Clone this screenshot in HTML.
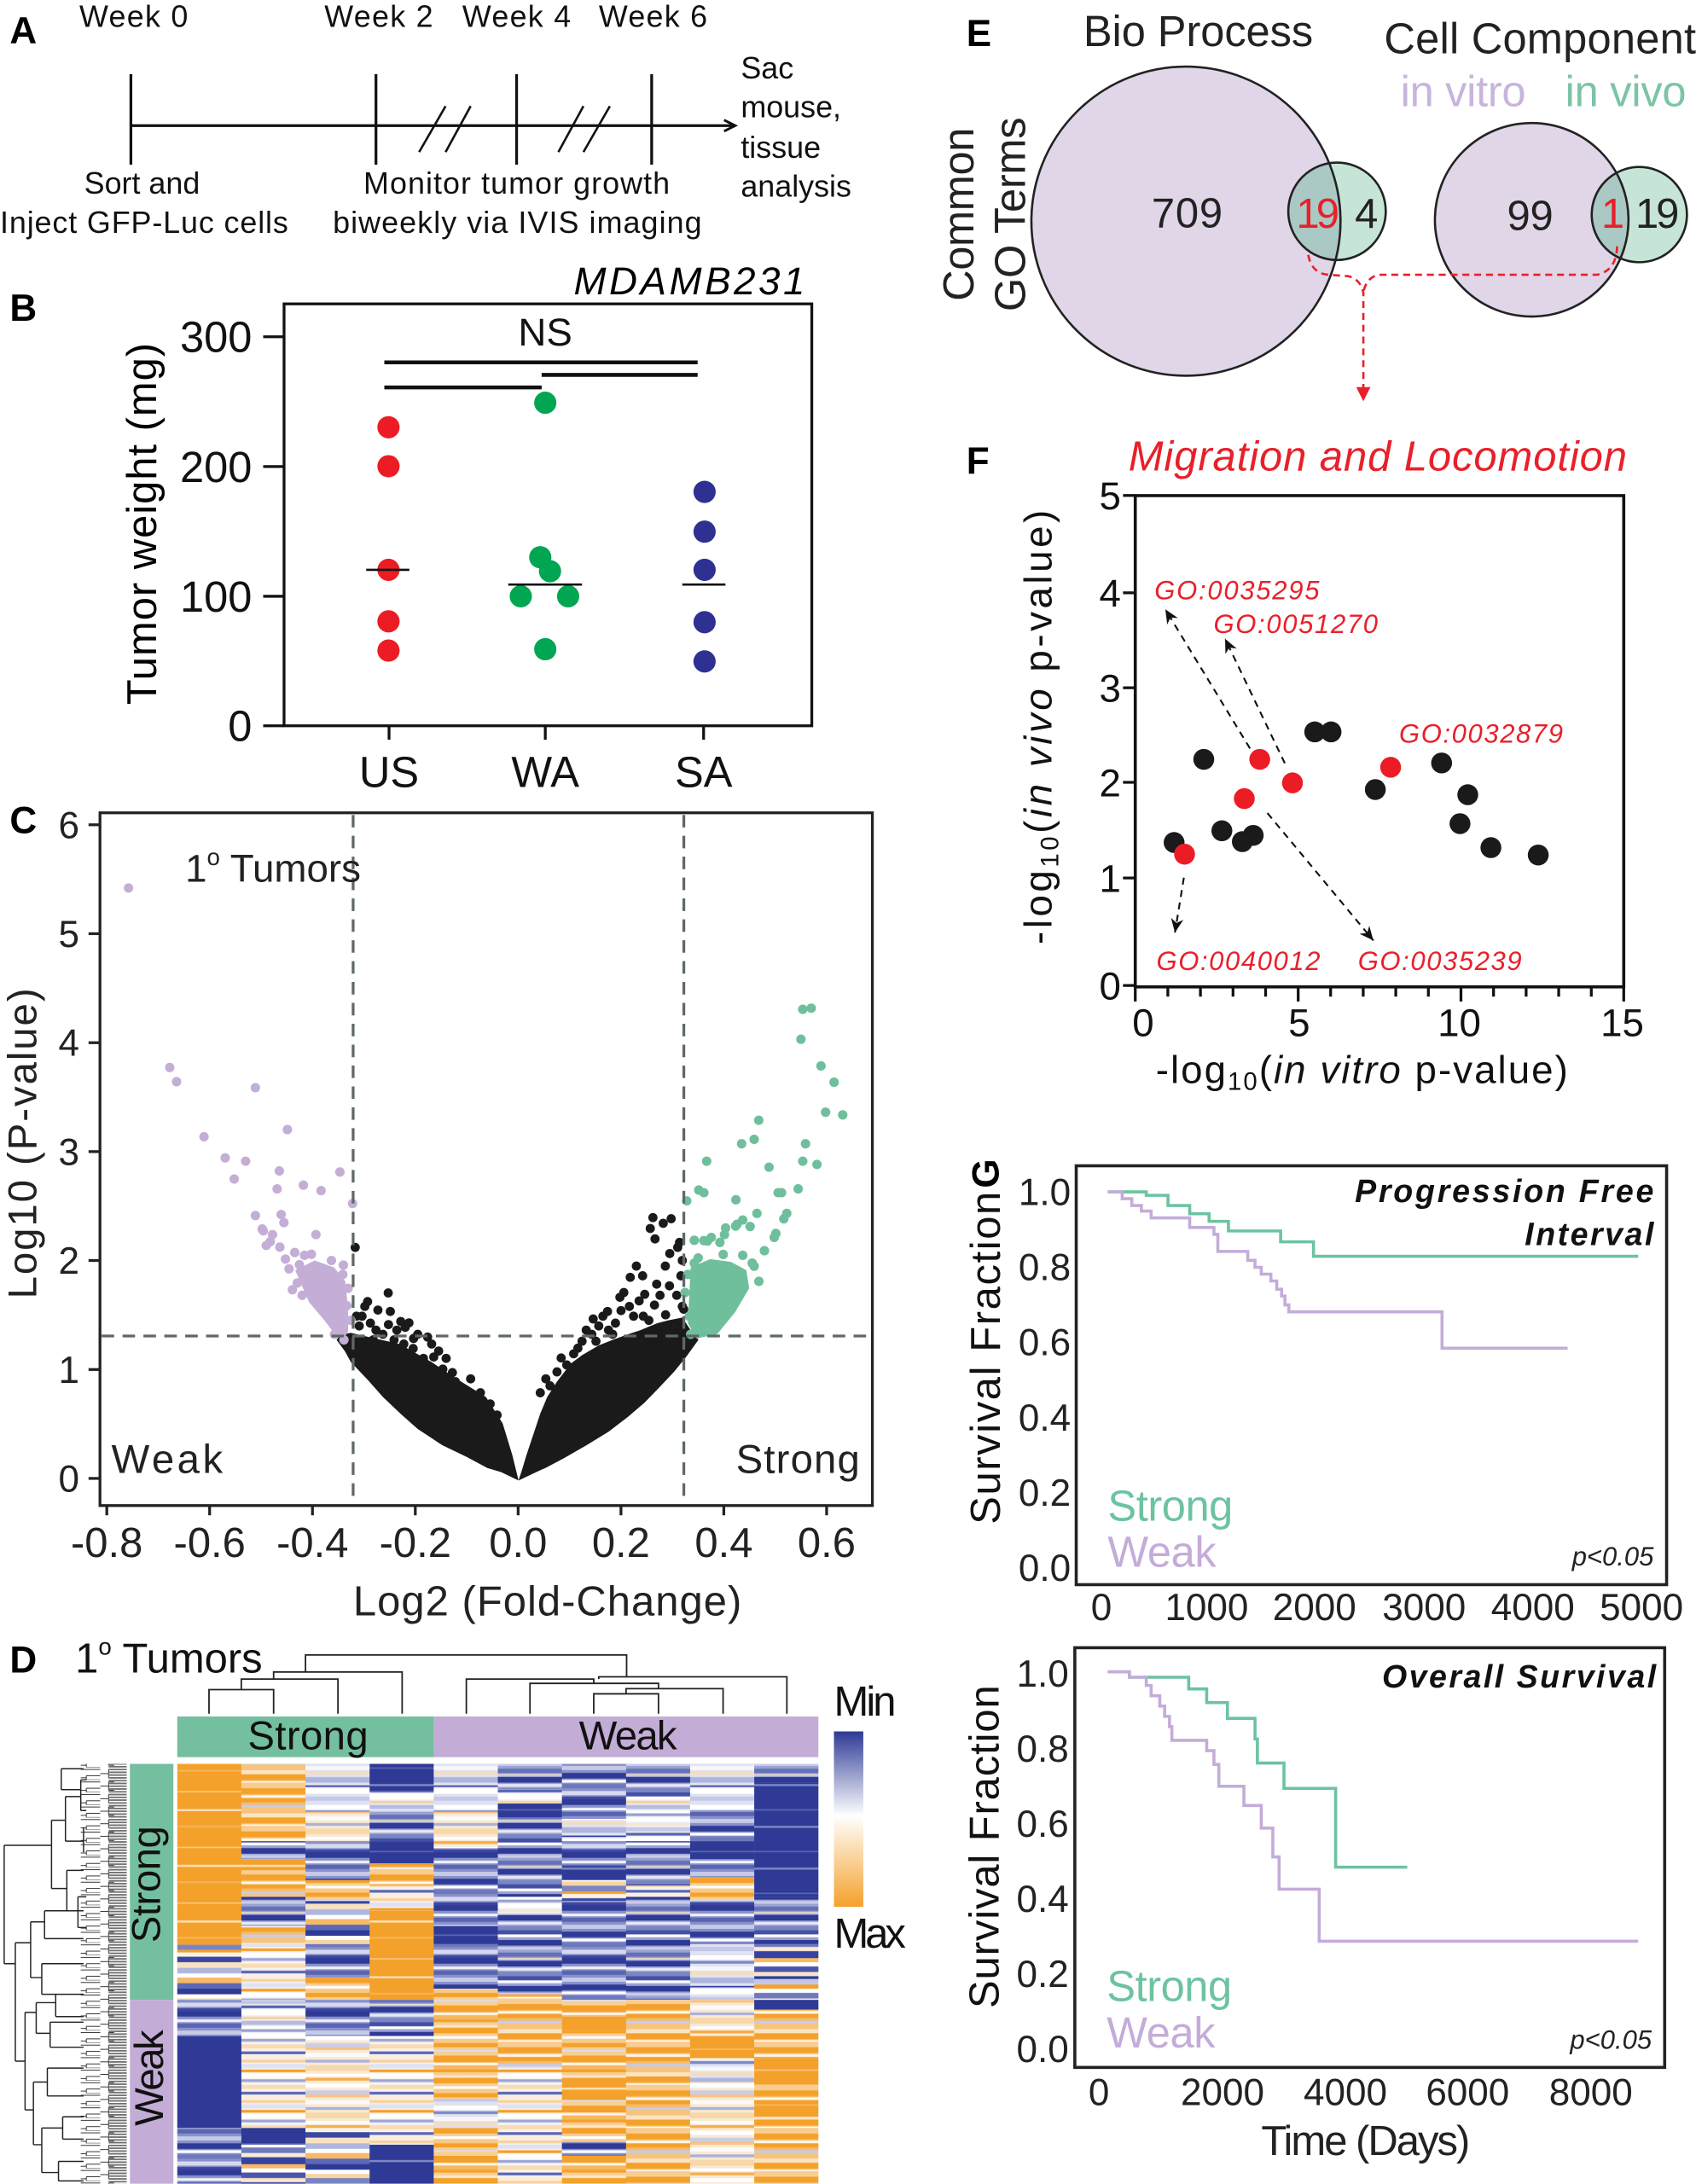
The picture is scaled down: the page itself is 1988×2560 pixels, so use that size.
<!DOCTYPE html>
<html><head><meta charset="utf-8"><style>html,body{margin:0;padding:0;background:#fff}svg{display:block}</style></head>
<body>
<svg xmlns="http://www.w3.org/2000/svg" width="1988" height="2560" viewBox="0 0 1218 1568" font-family="'Liberation Sans', Arial, sans-serif">
<defs>
<pattern id="or" patternUnits="userSpaceOnUse" width="50" height="40"><rect width="50" height="40" fill="#f4a12b"/><rect y="6" width="50" height="1" fill="#f8c880"/><rect y="19" width="50" height="1.5" fill="#fbe0b5"/><rect y="31" width="50" height="1" fill="#f7b862"/></pattern>
<pattern id="bd" patternUnits="userSpaceOnUse" width="50" height="30"><rect width="50" height="30" fill="#2e3a95"/><rect y="9" width="50" height="1" fill="#5b66b2"/><rect y="21" width="50" height="1.5" fill="#7e88c5"/></pattern>
<pattern id="bmA" patternUnits="userSpaceOnUse" width="50" height="38"><rect width="50" height="38" fill="#8891cb"/><rect y="0" width="50" height="4" fill="#2e3a95"/><rect y="6" width="50" height="2" fill="#eef0f8"/><rect y="9" width="50" height="3" fill="#5965b2"/><rect y="14" width="50" height="3" fill="#c5cae7"/><rect y="19" width="50" height="4" fill="#2e3a95"/><rect y="24" width="50" height="2" fill="#fff"/><rect y="27" width="50" height="3" fill="#6d77bb"/><rect y="32" width="50" height="3" fill="#d7daee"/><rect y="36" width="50" height="2" fill="#3a46a0"/></pattern>
<pattern id="bmB" patternUnits="userSpaceOnUse" width="50" height="33"><rect width="50" height="33" fill="#9aa2d3"/><rect y="0" width="50" height="3" fill="#4450a6"/><rect y="3" width="50" height="2" fill="#fff"/><rect y="7" width="50" height="4" fill="#2e3a95"/><rect y="12" width="50" height="2" fill="#c9cde9"/><rect y="16" width="50" height="3" fill="#6470b8"/><rect y="20" width="50" height="1" fill="#f8e2c4"/><rect y="22" width="50" height="4" fill="#2e3a95"/><rect y="27" width="50" height="2" fill="#e6e8f4"/><rect y="30" width="50" height="3" fill="#7b85c3"/></pattern>
<pattern id="ormA" patternUnits="userSpaceOnUse" width="50" height="36"><rect width="50" height="36" fill="#f8cf95"/><rect y="0" width="50" height="5" fill="#f4a12b"/><rect y="5" width="50" height="2" fill="#fdf3e6"/><rect y="7" width="50" height="3" fill="#f6b75d"/><rect y="10" width="50" height="2" fill="#f4a12b"/><rect y="14" width="50" height="2" fill="#fbe6c8"/><rect y="16" width="50" height="4" fill="#f4a12b"/><rect y="22" width="50" height="2" fill="#fff"/><rect y="24" width="50" height="3" fill="#f8c987"/><rect y="27" width="50" height="3" fill="#f4a12b"/><rect y="32" width="50" height="1" fill="#dcdff0"/></pattern>
<pattern id="ormB" patternUnits="userSpaceOnUse" width="50" height="31"><rect width="50" height="31" fill="#f6bb66"/><rect y="0" width="50" height="3" fill="#fbe3c2"/><rect y="3" width="50" height="4" fill="#f4a12b"/><rect y="8" width="50" height="1" fill="#fff"/><rect y="9" width="50" height="4" fill="#f8cd92"/><rect y="13" width="50" height="4" fill="#f4a12b"/><rect y="18" width="50" height="2" fill="#fdf6ec"/><rect y="20" width="50" height="3" fill="#f4a12b"/><rect y="25" width="50" height="2" fill="#c7cce8"/><rect y="27" width="50" height="4" fill="#f7c47e"/></pattern>
<pattern id="paleA" patternUnits="userSpaceOnUse" width="50" height="34"><rect width="50" height="34" fill="#f9e9d3"/><rect y="0" width="50" height="3" fill="#fff"/><rect y="5" width="50" height="3" fill="#c9cde8"/><rect y="8" width="50" height="2" fill="#f7c283"/><rect y="12" width="50" height="3" fill="#fdfbf8"/><rect y="17" width="50" height="2" fill="#aab1db"/><rect y="21" width="50" height="4" fill="#f8d7a9"/><rect y="27" width="50" height="2" fill="#fff"/><rect y="30" width="50" height="2" fill="#f5ad4b"/></pattern>
<pattern id="paleB" patternUnits="userSpaceOnUse" width="50" height="29"><rect width="50" height="29" fill="#f6f3ef"/><rect y="0" width="50" height="2" fill="#f8d2a0"/><rect y="3" width="50" height="3" fill="#dfe2f2"/><rect y="7" width="50" height="2" fill="#f4a12b"/><rect y="10" width="50" height="3" fill="#fff"/><rect y="14" width="50" height="2" fill="#9ea6d6"/><rect y="18" width="50" height="3" fill="#f9dcb4"/><rect y="23" width="50" height="2" fill="#5b67b3"/><rect y="26" width="50" height="3" fill="#fbeede"/></pattern>
<pattern id="mixA" patternUnits="userSpaceOnUse" width="50" height="42"><rect width="50" height="42" fill="#eceef7"/><rect y="0" width="50" height="4" fill="#2e3a95"/><rect y="4" width="50" height="3" fill="#fff"/><rect y="7" width="50" height="3" fill="#f8d4a2"/><rect y="10" width="50" height="4" fill="#7a84c3"/><rect y="14" width="50" height="2" fill="#f4a12b"/><rect y="16" width="50" height="3" fill="#fbf2e6"/><rect y="19" width="50" height="4" fill="#3a46a0"/><rect y="23" width="50" height="4" fill="#f9e2c2"/><rect y="27" width="50" height="4" fill="#b0b7de"/><rect y="31" width="50" height="3" fill="#fff"/><rect y="34" width="50" height="4" fill="#f6b968"/><rect y="38" width="50" height="4" fill="#5c68b3"/></pattern>
<pattern id="mixB" patternUnits="userSpaceOnUse" width="50" height="37"><rect width="50" height="37" fill="#dde0f1"/><rect y="0" width="50" height="3" fill="#f6b968"/><rect y="3" width="50" height="3" fill="#fff"/><rect y="6" width="50" height="4" fill="#4a56aa"/><rect y="10" width="50" height="3" fill="#f9e4c8"/><rect y="13" width="50" height="2" fill="#2e3a95"/><rect y="15" width="50" height="4" fill="#c2c7e6"/><rect y="19" width="50" height="3" fill="#f4a12b"/><rect y="22" width="50" height="3" fill="#fff"/><rect y="25" width="50" height="4" fill="#6f79bd"/><rect y="29" width="50" height="3" fill="#fae9d4"/><rect y="32" width="50" height="5" fill="#3542a0"/></pattern>
<pattern id="wbA" patternUnits="userSpaceOnUse" width="50" height="36"><rect width="50" height="36" fill="#dfe2f1"/><rect y="0" width="50" height="3" fill="#fff"/><rect y="4" width="50" height="2" fill="#7e88c5"/><rect y="8" width="50" height="3" fill="#f7f7fb"/><rect y="12" width="50" height="2" fill="#f8dcb8"/><rect y="16" width="50" height="4" fill="#aeb5dc"/><rect y="22" width="50" height="1" fill="#2e3a95"/><rect y="24" width="50" height="4" fill="#fff"/><rect y="30" width="50" height="3" fill="#c3c8e6"/></pattern>
<pattern id="wbB" patternUnits="userSpaceOnUse" width="50" height="31"><rect width="50" height="31" fill="#eef0f7"/><rect y="0" width="50" height="2" fill="#9aa2d3"/><rect y="3" width="50" height="3" fill="#fff"/><rect y="7" width="50" height="2" fill="#f9e6cc"/><rect y="10" width="50" height="3" fill="#c3c8e6"/><rect y="14" width="50" height="2" fill="#5864b2"/><rect y="17" width="50" height="4" fill="#fff"/><rect y="22" width="50" height="2" fill="#f7d3a3"/><rect y="25" width="50" height="3" fill="#b6bce0"/><rect y="29" width="50" height="2" fill="#fff"/></pattern>
<pattern id="twig" patternUnits="userSpaceOnUse" width="24" height="9"><path d="M0 4.5H6M6 1.5V7.5M6 1.5H24M6 7.5H14M14 6V9M14 6H24M14 9H24" stroke="#333" stroke-width="0.6" fill="none"/></pattern>
<pattern id="leaf" patternUnits="userSpaceOnUse" width="20" height="2"><rect width="20" height="1.1" fill="#6e6e6e"/></pattern>
<linearGradient id="key" x1="0" y1="0" x2="0" y2="1"><stop offset="0" stop-color="#2e3a95"/><stop offset="0.48" stop-color="#ffffff"/><stop offset="1" stop-color="#f4a12b"/></linearGradient>
<clipPath id="bigBP"><circle cx="851.7" cy="158.6" r="111"/></clipPath>
<clipPath id="bigCC"><circle cx="1100" cy="157.6" r="69.5"/></clipPath>
<marker id="ah" markerUnits="userSpaceOnUse" markerWidth="11" markerHeight="9" refX="10" refY="4.5" orient="auto"><path d="M0,0 L10,4.5 L0,9 L3,4.5 Z" fill="#111"/></marker>
</defs>

<!-- ================= PANEL A ================= -->
<text x="7" y="31" font-size="27" font-weight="bold">A</text>
<g font-size="22" fill="#111">
<text x="57" y="19" textLength="78">Week 0</text>
<text x="233" y="19" textLength="78">Week 2</text>
<text x="332" y="19" textLength="78">Week 4</text>
<text x="430" y="19" textLength="78">Week 6</text>
<text x="102" y="139" text-anchor="middle">Sort and</text>
<text x="0" y="167" textLength="207">Inject GFP-Luc cells</text>
<text x="261" y="139" textLength="220">Monitor tumor growth</text>
<text x="239" y="167" textLength="265">biweekly via IVIS imaging</text>
<text x="532" y="56">Sac</text>
<text x="532" y="84">mouse,</text>
<text x="532" y="113">tissue</text>
<text x="532" y="141">analysis</text>
</g>
<g stroke="#111" stroke-width="2" fill="none">
<line x1="94" y1="90" x2="527" y2="90"/>
<polyline points="520,86 528,90 520,94" stroke-width="1.8"/>
<line x1="94" y1="53" x2="94" y2="118"/>
<line x1="270" y1="53" x2="270" y2="118"/>
<line x1="371" y1="53" x2="371" y2="118"/>
<line x1="468" y1="53" x2="468" y2="118"/>
<g stroke-width="1.6"><line x1="301" y1="109" x2="320" y2="76"/><line x1="320" y1="109" x2="338" y2="76"/><line x1="401" y1="109" x2="419" y2="76"/><line x1="419" y1="109" x2="438" y2="76"/></g>
</g>

<!-- ================= PANEL B ================= -->
<text x="7" y="230" font-size="27" font-weight="bold">B</text>
<text x="412" y="211" font-size="28" font-style="italic" textLength="166">MDAMB231</text>
<rect x="204" y="218" width="379" height="303" fill="none" stroke="#111" stroke-width="2"/>
<g stroke="#111" stroke-width="2">
<line x1="189" y1="241.6" x2="204" y2="241.6"/><line x1="189" y1="334.8" x2="204" y2="334.8"/><line x1="189" y1="428" x2="204" y2="428"/><line x1="189" y1="521" x2="204" y2="521"/>
<line x1="279.4" y1="521" x2="279.4" y2="531"/><line x1="391.6" y1="521" x2="391.6" y2="531"/><line x1="505.3" y1="521" x2="505.3" y2="531"/>
</g>
<g font-size="31" text-anchor="end" fill="#111">
<text x="181" y="252.5">300</text><text x="181" y="345.8">200</text><text x="181" y="439">100</text><text x="181" y="532">0</text>
</g>
<g font-size="31" text-anchor="middle" fill="#111">
<text x="279.4" y="565">US</text><text x="391.6" y="565">WA</text><text x="505.3" y="565">SA</text>
<text x="391.6" y="248" font-size="28">NS</text>
</g>
<text transform="translate(112,376) rotate(-90)" font-size="30" text-anchor="middle" textLength="260">Tumor weight (mg)</text>
<g stroke="#111" stroke-width="2.8">
<line x1="276" y1="260" x2="501" y2="260"/><line x1="389" y1="269" x2="501" y2="269"/><line x1="276" y1="278" x2="389" y2="278"/>
</g>
<g fill="#ec1c24"><circle cx="279" cy="306.6" r="8"/><circle cx="279" cy="334.6" r="8"/><circle cx="279" cy="409" r="8"/><circle cx="279" cy="446" r="8"/><circle cx="279" cy="467" r="8"/></g>
<g fill="#00a651"><circle cx="391.6" cy="289" r="8"/><circle cx="388" cy="400" r="8"/><circle cx="395" cy="410" r="8"/><circle cx="374" cy="428" r="8"/><circle cx="408" cy="428" r="8"/><circle cx="391.6" cy="466" r="8"/></g>
<g fill="#2e3192"><circle cx="506" cy="353" r="8"/><circle cx="506" cy="381.6" r="8"/><circle cx="506" cy="409" r="8"/><circle cx="506" cy="446.6" r="8"/><circle cx="506" cy="474.8" r="8"/></g>
<g stroke="#111" stroke-width="1.6">
<line x1="263" y1="409" x2="294" y2="409"/><line x1="365" y1="419.6" x2="418" y2="419.6"/><line x1="490" y1="419.6" x2="521" y2="419.6"/>
</g>

<!-- ================= PANEL C ================= -->
<text x="7" y="598" font-size="27" font-weight="bold">C</text>
<g fill="#1a1a1a">
<path d="M372.4,1063 L360,1057 L350,1054 L335,1046 L317.5,1037.6 L300,1026 L287.8,1015.2 L275,1003 L264,990.6 L252,978 L247.7,970.2 L241.7,962 L245,958 L252,957 L265,960 L287,965 L310,978 L328,990 L349,1003 L361,1022 L368,1045 Z"/>
<path d="M372.4,1063 L385,1057 L391.7,1054 L405,1047 L421.4,1037.6 L437,1028 L451.1,1017.2 L463,1007 L474.9,994.7 L484,985 L492.7,974.3 L501.6,962 L496,955 L490,946 L480,948 L472,950 L460,955 L451,958 L440,962 L430,966 L418,973 L410,979 L400,992 L393,1003 L388,1015 L383,1030 L378,1045 L375,1055 Z"/>
</g>
<g fill="#1a1a1a">
<circle cx="255.1" cy="895.6" r="3.3"/><circle cx="278.8" cy="928.3" r="3.3"/><circle cx="264" cy="934.5" r="3.3"/><circle cx="271.4" cy="940.6" r="3.3"/><circle cx="280.3" cy="941.6" r="3.3"/><circle cx="287.8" cy="948.8" r="3.3"/><circle cx="293.7" cy="949.8" r="3.3"/><circle cx="291" cy="953" r="3.3"/><circle cx="307.1" cy="960" r="3.3"/><circle cx="296.7" cy="968.2" r="3.3"/><circle cx="304.1" cy="975.3" r="3.3"/><circle cx="311.5" cy="974.3" r="3.3"/><circle cx="320.4" cy="975.3" r="3.3"/><circle cx="324.9" cy="985.5" r="3.3"/><circle cx="332.3" cy="997.8" r="3.3"/><circle cx="335" cy="999" r="3.3"/><circle cx="341.2" cy="1009" r="3.3"/><circle cx="260" cy="945" r="3.3"/><circle cx="266" cy="950" r="3.3"/><circle cx="258" cy="952" r="3.3"/><circle cx="275" cy="958" r="3.3"/><circle cx="283" cy="962" r="3.3"/><circle cx="268" cy="962" r="3.3"/><circle cx="290" cy="965" r="3.3"/><circle cx="262" cy="938" r="3.3"/><circle cx="279" cy="951" r="3.3"/><circle cx="300" cy="958" r="3.3"/><circle cx="310" cy="965" r="3.3"/><circle cx="318" cy="983" r="3.3"/><circle cx="327" cy="992" r="3.3"/><circle cx="256" cy="945" r="3.3"/><circle cx="270" cy="955" r="3.3"/><circle cx="297" cy="961" r="3.3"/><circle cx="315" cy="970" r="3.3"/><circle cx="338" cy="990" r="3.3"/><circle cx="345" cy="1000" r="3.3"/><circle cx="352" cy="1008" r="3.3"/><circle cx="357" cy="1016" r="3.3"/><circle cx="285" cy="955" r="3.3"/>
<circle cx="468.9" cy="874.2" r="3.3"/><circle cx="476.3" cy="878.3" r="3.3"/><circle cx="482" cy="875" r="3.3"/><circle cx="470.4" cy="889.5" r="3.3"/><circle cx="467" cy="882" r="3.3"/><circle cx="486.7" cy="895.6" r="3.3"/><circle cx="457" cy="909" r="3.3"/><circle cx="477.8" cy="909" r="3.3"/><circle cx="452.6" cy="917.1" r="3.3"/><circle cx="461.5" cy="916" r="3.3"/><circle cx="471.6" cy="922" r="3.3"/><circle cx="480.8" cy="923.2" r="3.3"/><circle cx="445.2" cy="931.4" r="3.3"/><circle cx="463" cy="929.3" r="3.3"/><circle cx="486" cy="930" r="3.3"/><circle cx="436.3" cy="941.6" r="3.3"/><circle cx="452" cy="938" r="3.3"/><circle cx="470" cy="937" r="3.3"/><circle cx="455" cy="945" r="3.3"/><circle cx="442" cy="950" r="3.3"/><circle cx="430" cy="952" r="3.3"/><circle cx="478" cy="944" r="3.3"/><circle cx="490" cy="938" r="3.3"/><circle cx="425" cy="958" r="3.3"/><circle cx="418" cy="963" r="3.3"/><circle cx="433" cy="945" r="3.3"/><circle cx="448" cy="928" r="3.3"/><circle cx="459" cy="934" r="3.3"/><circle cx="485" cy="952" r="3.3"/><circle cx="465" cy="958" r="3.3"/><circle cx="475" cy="955" r="3.3"/><circle cx="440" cy="958" r="3.3"/><circle cx="412" cy="972" r="3.3"/><circle cx="407" cy="980" r="3.3"/><circle cx="446" cy="941" r="3.3"/><circle cx="428" cy="963" r="3.3"/><circle cx="462" cy="945" r="3.3"/><circle cx="489" cy="916" r="3.3"/><circle cx="481" cy="900" r="3.3"/><circle cx="488" cy="892" r="3.3"/><circle cx="490" cy="905" r="3.3"/><circle cx="491" cy="940" r="3.3"/><circle cx="400" cy="985" r="3.3"/><circle cx="395" cy="995" r="3.3"/><circle cx="421" cy="955" r="3.3"/><circle cx="415" cy="968" r="3.3"/><circle cx="403" cy="975" r="3.3"/><circle cx="392" cy="990" r="3.3"/><circle cx="388" cy="1000" r="3.3"/><circle cx="437" cy="955" r="3.3"/><circle cx="426" cy="947" r="3.3"/><circle cx="466" cy="948" r="3.3"/><circle cx="474" cy="930" r="3.3"/>
</g>
<!-- lavender -->
<g fill="#c4aed6">
<path d="M212,912 L226,905 L240,910 L248,920 L250,940 L250,956 L242,960 L233,948 L222,935 Z"/>
<circle cx="92.3" cy="637.5" r="3.4"/><circle cx="121.9" cy="766.4" r="3.4"/><circle cx="126.8" cy="776.6" r="3.4"/><circle cx="183.4" cy="780.9" r="3.4"/><circle cx="146.5" cy="816.1" r="3.4"/><circle cx="206.4" cy="811" r="3.4"/><circle cx="161.7" cy="831.3" r="3.4"/><circle cx="176.4" cy="833.7" r="3.4"/><circle cx="168.2" cy="846.5" r="3.4"/><circle cx="200.6" cy="840.7" r="3.4"/><circle cx="244.1" cy="841.5" r="3.4"/><circle cx="199" cy="853.6" r="3.4"/><circle cx="217.9" cy="850.9" r="3.4"/><circle cx="230.6" cy="854.8" r="3.4"/><circle cx="253.2" cy="864.1" r="3.4"/><circle cx="183.4" cy="872.7" r="3.4"/><circle cx="201.9" cy="872" r="3.4"/><circle cx="203.9" cy="877.8" r="3.4"/><circle cx="226.9" cy="886.4" r="3.4"/><circle cx="189.1" cy="883.7" r="3.4"/><circle cx="194.1" cy="891.5" r="3.4"/><circle cx="191.2" cy="894.2" r="3.4"/><circle cx="201" cy="895.4" r="3.4"/><circle cx="211.7" cy="899.3" r="3.4"/><circle cx="218.7" cy="901.3" r="3.4"/><circle cx="246.6" cy="908.3" r="3.4"/><circle cx="246.2" cy="915" r="3.4"/><circle cx="223.6" cy="900.5" r="3.4"/><circle cx="188.3" cy="882.4" r="3.4"/><circle cx="195.7" cy="886.4" r="3.4"/><circle cx="207.6" cy="911" r="3.4"/><circle cx="205" cy="904" r="3.4"/><circle cx="219.4" cy="917.1" r="3.4"/><circle cx="231.3" cy="917.1" r="3.4"/><circle cx="213.5" cy="921.2" r="3.4"/><circle cx="222.4" cy="927.3" r="3.4"/><circle cx="228.4" cy="933.4" r="3.4"/><circle cx="240.2" cy="931.4" r="3.4"/><circle cx="234.3" cy="941.6" r="3.4"/><circle cx="243.2" cy="947.7" r="3.4"/><circle cx="246.2" cy="955.9" r="3.4"/><circle cx="240.2" cy="958" r="3.4"/><circle cx="249.1" cy="937.5" r="3.4"/><circle cx="215" cy="908" r="3.4"/><circle cx="236" cy="925" r="3.4"/><circle cx="250" cy="925" r="3.4"/><circle cx="226" cy="920" r="3.4"/><circle cx="217" cy="930" r="3.4"/><circle cx="247" cy="962" r="3.4"/><circle cx="210" cy="926" r="3.4"/><circle cx="252" cy="948" r="3.4"/><circle cx="238" cy="905" r="3.4"/>
</g>
<!-- green -->
<g fill="#6fbf9c">
<path d="M496,910 L510,904 L525,906 L536,912 L538,925 L528,942 L515,958 L500,961 L494,950 Z"/>
<circle cx="576.5" cy="724.6" r="3.4"/><circle cx="582.6" cy="723.8" r="3.4"/><circle cx="575.2" cy="746.1" r="3.4"/><circle cx="589.6" cy="765.3" r="3.4"/><circle cx="599" cy="777" r="3.4"/><circle cx="592.9" cy="798.5" r="3.4"/><circle cx="605.2" cy="800.4" r="3.4"/><circle cx="544.9" cy="804.3" r="3.4"/><circle cx="532.6" cy="821.2" r="3.4"/><circle cx="541.6" cy="818" r="3.4"/><circle cx="578.5" cy="821.2" r="3.4"/><circle cx="507.5" cy="833.7" r="3.4"/><circle cx="576.5" cy="833.7" r="3.4"/><circle cx="586.7" cy="836" r="3.4"/><circle cx="552.3" cy="838" r="3.4"/><circle cx="561.3" cy="856.3" r="3.4"/><circle cx="573.2" cy="853.6" r="3.4"/><circle cx="501.8" cy="854.4" r="3.4"/><circle cx="505.5" cy="856.3" r="3.4"/><circle cx="558.8" cy="856.3" r="3.4"/><circle cx="528.5" cy="861.4" r="3.4"/><circle cx="493.2" cy="862.2" r="3.4"/><circle cx="543.6" cy="871.2" r="3.4"/><circle cx="565" cy="871.2" r="3.4"/><circle cx="562.9" cy="875.1" r="3.4"/><circle cx="529.3" cy="879" r="3.4"/><circle cx="533.4" cy="875.9" r="3.4"/><circle cx="538.7" cy="880.6" r="3.4"/><circle cx="557.2" cy="885.6" r="3.4"/><circle cx="556" cy="888.4" r="3.4"/><circle cx="521.1" cy="881.7" r="3.4"/><circle cx="520.3" cy="886.4" r="3.4"/><circle cx="510.8" cy="888.4" r="3.4"/><circle cx="505.5" cy="890.7" r="3.4"/><circle cx="501.4" cy="903.2" r="3.4"/><circle cx="533.4" cy="901.3" r="3.4"/><circle cx="541.6" cy="909.1" r="3.4"/><circle cx="529.3" cy="916.9" r="3.4"/><circle cx="498.6" cy="890.5" r="3.4"/><circle cx="508" cy="891" r="3.4"/><circle cx="517" cy="892" r="3.4"/><circle cx="528.3" cy="880.3" r="3.4"/><circle cx="519.4" cy="900.7" r="3.4"/><circle cx="540.2" cy="906.9" r="3.4"/><circle cx="498.6" cy="906.9" r="3.4"/><circle cx="510" cy="912" r="3.4"/><circle cx="504" cy="922" r="3.4"/><circle cx="521" cy="922" r="3.4"/><circle cx="515" cy="930" r="3.4"/><circle cx="500" cy="935" r="3.4"/><circle cx="508" cy="940" r="3.4"/><circle cx="495" cy="945" r="3.4"/><circle cx="503" cy="950" r="3.4"/><circle cx="496" cy="958" r="3.4"/><circle cx="492" cy="928" r="3.4"/><circle cx="494" cy="915" r="3.4"/><circle cx="530" cy="925" r="3.4"/><circle cx="549" cy="898" r="3.4"/><circle cx="545" cy="920" r="3.4"/><circle cx="524" cy="937" r="3.4"/>
</g>
<g stroke="#5f6868" stroke-width="2" stroke-dasharray="9 6" fill="none">
<line x1="253.6" y1="585" x2="253.6" y2="1080"/><line x1="491.1" y1="585" x2="491.1" y2="1080"/><line x1="73" y1="959.2" x2="625.5" y2="959.2"/>
</g>
<rect x="71.8" y="583.5" width="554.7" height="497.5" fill="none" stroke="#222" stroke-width="2"/>
<g stroke="#222" stroke-width="2">
<line x1="63.6" y1="592.1" x2="71.8" y2="592.1"/><line x1="63.6" y1="670.3" x2="71.8" y2="670.3"/><line x1="63.6" y1="748.6" x2="71.8" y2="748.6"/><line x1="63.6" y1="826.8" x2="71.8" y2="826.8"/><line x1="63.6" y1="905" x2="71.8" y2="905"/><line x1="63.6" y1="983.3" x2="71.8" y2="983.3"/><line x1="63.6" y1="1061.5" x2="71.8" y2="1061.5"/>
<line x1="76.7" y1="1081" x2="76.7" y2="1088"/><line x1="150.55" y1="1081" x2="150.55" y2="1088"/><line x1="224.4" y1="1081" x2="224.4" y2="1088"/><line x1="298.25" y1="1081" x2="298.25" y2="1088"/><line x1="372.1" y1="1081" x2="372.1" y2="1088"/><line x1="445.95" y1="1081" x2="445.95" y2="1088"/><line x1="519.8" y1="1081" x2="519.8" y2="1088"/><line x1="593.65" y1="1081" x2="593.65" y2="1088"/>
</g>
<g font-size="27" text-anchor="end" fill="#222">
<text x="57" y="601.6">6</text><text x="57" y="679.8">5</text><text x="57" y="758.1">4</text><text x="57" y="836.3">3</text><text x="57" y="914.5">2</text><text x="57" y="992.8">1</text><text x="57" y="1071">0</text>
</g>
<g font-size="30" text-anchor="middle" fill="#222">
<text x="76.7" y="1118">-0.8</text><text x="150.55" y="1118">-0.6</text><text x="224.4" y="1118">-0.4</text><text x="298.25" y="1118">-0.2</text><text x="372.1" y="1118">0.0</text><text x="445.95" y="1118">0.2</text><text x="519.8" y="1118">0.4</text><text x="593.65" y="1118">0.6</text>
</g>
<text x="253.6" y="1160" font-size="30" fill="#222" textLength="279">Log2 (Fold-Change)</text>
<text transform="translate(26,821) rotate(-90)" font-size="29" text-anchor="middle" fill="#222" textLength="223">Log10 (P-value)</text>
<text x="133" y="633" font-size="28" fill="#222">1<tspan font-size="17" dy="-12">o</tspan><tspan dy="12"> Tumors</tspan></text>
<text x="80" y="1057.6" font-size="29" fill="#222" textLength="80">Weak</text>
<text x="528.5" y="1057.6" font-size="29" fill="#222" textLength="89">Strong</text>

<!-- ================= PANEL D ================= -->
<text x="7" y="1201" font-size="27" font-weight="bold">D</text>
<text x="54" y="1201" font-size="30" fill="#111">1<tspan font-size="17" dy="-13">o</tspan><tspan dy="13"> Tumors</tspan></text>
<g stroke="#222" stroke-width="1.1" fill="none">
<path d="M150.1,1230.5V1213.2H196.5V1230.5M173.3,1213.2V1205.6H242.7V1230.5M196.5,1205.6V1200.5H288.8V1230.5M219.4,1200.5V1188.3H450H450V1204"/>
<path d="M426.4,1230.5V1216.2H472.9V1230.5M449.6,1216.2V1212.5H519.3V1230.5M472.9,1212.5V1208.7H380.6V1230.5M426.4,1208.7V1205.6H334.9V1230.5M430,1205.6V1204H565.1V1230.5"/>
</g>
<rect x="127.3" y="1232.5" width="184.2" height="29.2" fill="#74bf9f"/>
<rect x="311.5" y="1232.5" width="276.2" height="29.2" fill="#c3acd6"/>
<text x="177.9" y="1256" font-size="29" fill="#111" textLength="86.6">Strong</text>
<text x="415.8" y="1256" font-size="29" fill="#111" textLength="70.4">Weak</text>
<rect x="93.3" y="1266.5" width="31.2" height="169.5" fill="#74bf9f"/>
<rect x="93.3" y="1436" width="31.2" height="132" fill="#c3acd6"/>
<text transform="translate(115,1353) rotate(-90)" font-size="29" text-anchor="middle" fill="#111" textLength="84">Strong</text>
<text transform="translate(117,1492) rotate(-90)" font-size="29" text-anchor="middle" fill="#111" textLength="69">Weak</text>
<rect x="58" y="1266.5" width="24" height="301.5" fill="url(#twig)"/>
<rect x="78" y="1266.5" width="13" height="301.5" fill="url(#leaf)"/>
<g stroke="#222" stroke-width="0.9" fill="none">
<path d="M3,1325V1410M3,1325H37M3,1410H11"/>
<path d="M37,1307V1356M37,1307H47M37,1356H48M47,1290V1322M47,1290H58M47,1322H60M48,1343V1372M48,1343H60M48,1372H56M58,1278V1300M58,1278H62M58,1300H62M60,1312V1330M56,1362V1384M56,1362H62M56,1384H62M44,1270V1285M44,1270H60M44,1285H58"/>
<path d="M11,1395V1480M11,1395H22M11,1480H18M22,1380V1420M22,1380H32M22,1420H30M32,1372V1392M32,1372H60M32,1392H60M30,1410V1432M30,1410H60M30,1432H60"/>
<path d="M18,1445V1515M18,1445H26M18,1515H24M26,1438V1460M26,1438H40M26,1460H36M40,1432V1448M40,1448H60M36,1452V1470M36,1452H60M36,1470H60M24,1495V1540M24,1495H34M24,1540H30M34,1485V1505M34,1485H60M34,1505H60M30,1528V1560M30,1528H45M30,1560H42M45,1520V1536M45,1520H60M45,1536H60M42,1552V1566M42,1552H60M42,1566H60"/>
</g>
<!-- heatmap -->
<g transform="translate(127.3,0)">
<rect y="1266.5" width="46.2" height="129.9" fill="url(#or)"/><rect y="1396.4" width="46.2" height="39.6" fill="url(#mixA)"/><rect y="1436" width="46.2" height="26" fill="url(#bmA)"/><rect y="1462" width="46.2" height="66" fill="#2e3a95"/><rect y="1528" width="46.2" height="40" fill="url(#bmA)"/>
</g>
<g transform="translate(173.34,0)">
<rect y="1266.5" width="46.2" height="55.5" fill="url(#ormB)"/><rect y="1322" width="46.2" height="13" fill="url(#bmB)"/><rect y="1335" width="46.2" height="8" fill="url(#or)"/><rect y="1343" width="46.2" height="19" fill="url(#ormB)"/><rect y="1362" width="46.2" height="21" fill="url(#bmB)"/><rect y="1383" width="46.2" height="13" fill="url(#ormB)"/><rect y="1396" width="46.2" height="40" fill="url(#paleB)"/><rect y="1436" width="46.2" height="26" fill="url(#wbB)"/><rect y="1462" width="46.2" height="66" fill="url(#paleB)"/><rect y="1528" width="46.2" height="12" fill="url(#bd)"/><rect y="1540" width="46.2" height="28" fill="url(#mixB)"/>
</g>
<g transform="translate(219.38,0)">
<rect y="1266.5" width="46.2" height="34.5" fill="url(#wbA)"/><rect y="1301" width="46.2" height="21" fill="url(#paleA)"/><rect y="1322" width="46.2" height="28" fill="url(#bmA)"/><rect y="1350" width="46.2" height="15" fill="url(#ormA)"/><rect y="1365" width="46.2" height="31" fill="url(#mixA)"/><rect y="1396" width="46.2" height="24" fill="url(#bmA)"/><rect y="1420" width="46.2" height="16" fill="url(#ormA)"/><rect y="1436" width="46.2" height="26" fill="url(#bmA)"/><rect y="1462" width="46.2" height="66" fill="url(#paleA)"/><rect y="1528" width="46.2" height="40" fill="url(#mixA)"/>
</g>
<g transform="translate(265.42,0)">
<rect y="1266.5" width="46.2" height="19.5" fill="url(#bd)"/><rect y="1286" width="46.2" height="14" fill="url(#wbB)"/><rect y="1300" width="46.2" height="22" fill="url(#bmB)"/><rect y="1322" width="46.2" height="16" fill="url(#bd)"/><rect y="1338" width="46.2" height="16" fill="url(#ormB)"/><rect y="1354" width="46.2" height="18" fill="url(#paleB)"/><rect y="1372" width="46.2" height="64" fill="url(#or)"/><rect y="1436" width="46.2" height="26" fill="url(#bmB)"/><rect y="1462" width="46.2" height="78" fill="url(#paleB)"/><rect y="1540" width="46.2" height="28" fill="url(#bd)"/>
</g>
<g transform="translate(311.46,0)">
<rect y="1266.5" width="46.2" height="34.5" fill="url(#wbA)"/><rect y="1301" width="46.2" height="26" fill="url(#paleA)"/><rect y="1327" width="46.2" height="56" fill="url(#bmA)"/><rect y="1383" width="46.2" height="13" fill="url(#bd)"/><rect y="1396" width="46.2" height="32" fill="url(#bmA)"/><rect y="1428" width="46.2" height="79" fill="url(#ormA)"/><rect y="1507" width="46.2" height="21" fill="url(#wbA)"/><rect y="1528" width="46.2" height="40" fill="url(#ormA)"/>
</g>
<g transform="translate(357.5,0)">
<rect y="1266.5" width="46.2" height="18.5" fill="url(#bmB)"/><rect y="1285" width="46.2" height="10" fill="url(#wbB)"/><rect y="1295" width="46.2" height="10" fill="url(#bd)"/><rect y="1305" width="46.2" height="57" fill="url(#bmB)"/><rect y="1362" width="46.2" height="13" fill="url(#wbB)"/><rect y="1375" width="46.2" height="57" fill="url(#bmB)"/><rect y="1432" width="46.2" height="52" fill="url(#ormB)"/><rect y="1484" width="46.2" height="84" fill="url(#paleB)"/>
</g>
<g transform="translate(403.54,0)">
<rect y="1266.5" width="46.2" height="39.5" fill="url(#bmA)"/><rect y="1306" width="46.2" height="16" fill="url(#wbA)"/><rect y="1322" width="46.2" height="18" fill="url(#bmA)"/><rect y="1340" width="46.2" height="10" fill="url(#bd)"/><rect y="1350" width="46.2" height="15" fill="url(#mixA)"/><rect y="1365" width="46.2" height="71" fill="url(#bmA)"/><rect y="1436" width="46.2" height="12" fill="url(#ormA)"/><rect y="1448" width="46.2" height="10" fill="url(#or)"/><rect y="1458" width="46.2" height="37" fill="url(#ormA)"/><rect y="1495" width="46.2" height="13" fill="url(#or)"/><rect y="1508" width="46.2" height="30" fill="url(#ormA)"/><rect y="1538" width="46.2" height="10" fill="url(#bmA)"/><rect y="1548" width="46.2" height="20" fill="url(#ormA)"/>
</g>
<g transform="translate(449.58,0)">
<rect y="1266.5" width="46.2" height="23.5" fill="url(#bmB)"/><rect y="1290" width="46.2" height="32" fill="url(#wbB)"/><rect y="1322" width="46.2" height="32" fill="url(#bmB)"/><rect y="1354" width="46.2" height="8" fill="url(#paleB)"/><rect y="1362" width="46.2" height="74" fill="url(#bmB)"/><rect y="1436" width="46.2" height="132" fill="url(#ormB)"/>
</g>
<g transform="translate(495.62,0)">
<rect y="1266.5" width="46.2" height="34.5" fill="url(#wbA)"/><rect y="1301" width="46.2" height="21" fill="url(#bmA)"/><rect y="1322" width="46.2" height="13" fill="url(#bd)"/><rect y="1335" width="46.2" height="13" fill="url(#bmA)"/><rect y="1348" width="46.2" height="17" fill="url(#ormA)"/><rect y="1365" width="46.2" height="31" fill="url(#bmA)"/><rect y="1396" width="46.2" height="40" fill="url(#wbA)"/><rect y="1436" width="46.2" height="26" fill="url(#paleA)"/><rect y="1462" width="46.2" height="16" fill="url(#or)"/><rect y="1478" width="46.2" height="17" fill="url(#wbA)"/><rect y="1495" width="46.2" height="73" fill="url(#paleA)"/>
</g>
<g transform="translate(541.66,0)">
<rect y="1266.5" width="46.1" height="13.5" fill="url(#bmB)"/><rect y="1280" width="46.1" height="82" fill="url(#bd)"/><rect y="1362" width="46.1" height="34" fill="url(#bmB)"/><rect y="1396" width="46.1" height="40" fill="url(#mixB)"/><rect y="1436" width="46.1" height="7" fill="url(#bd)"/><rect y="1443" width="46.1" height="35" fill="url(#ormB)"/><rect y="1478" width="46.1" height="19" fill="url(#or)"/><rect y="1497" width="46.1" height="11" fill="url(#ormB)"/><rect y="1508" width="46.1" height="12" fill="url(#or)"/><rect y="1520" width="46.1" height="48" fill="url(#ormB)"/>
</g>
<rect x="598.9" y="1243.2" width="21.1" height="126" fill="url(#key)"/>
<text x="598.9" y="1232" font-size="30" fill="#111" textLength="44.7">Min</text>
<text x="598.9" y="1398.4" font-size="30" fill="#111" textLength="51.7">Max</text>

<!-- ================= PANEL E ================= -->
<text x="694" y="33" font-size="27" font-weight="bold">E</text>
<text x="778" y="33" font-size="31" fill="#222" textLength="165">Bio Process</text>
<text x="994" y="38" font-size="31" fill="#222" textLength="224">Cell Component</text>
<text x="1005.8" y="76" font-size="31" fill="#c8b4dc" textLength="90">in vitro</text>
<text x="1124" y="76" font-size="31" fill="#7cc4a4" textLength="87">in vivo</text>
<text transform="translate(699,153.7) rotate(-90)" font-size="31" text-anchor="middle" fill="#222" textLength="124.6">Common</text>
<text transform="translate(736,153.7) rotate(-90)" font-size="31" text-anchor="middle" fill="#222" textLength="139.5">GO Terms</text>
<circle cx="851.7" cy="158.6" r="111" fill="#e0d6e8"/>
<circle cx="960.2" cy="151.5" r="35" fill="#c7e5d6"/>
<circle cx="960.2" cy="151.5" r="35" fill="#aac8c4" clip-path="url(#bigBP)"/>
<circle cx="851.7" cy="158.6" r="111" fill="none" stroke="#222" stroke-width="1.6"/>
<circle cx="960.2" cy="151.5" r="35" fill="none" stroke="#222" stroke-width="1.6"/>
<circle cx="1100" cy="157.6" r="69.5" fill="#e0d6e8"/>
<circle cx="1177.3" cy="153.9" r="34.2" fill="#c7e5d6"/>
<circle cx="1177.3" cy="153.9" r="34.2" fill="#aac8c4" clip-path="url(#bigCC)"/>
<circle cx="1100" cy="157.6" r="69.5" fill="none" stroke="#222" stroke-width="1.6"/>
<circle cx="1177.3" cy="153.9" r="34.2" fill="none" stroke="#222" stroke-width="1.6"/>
<g font-size="30" fill="#222">
<text x="827" y="163" textLength="51">709</text>
<text x="930.9" y="163.4" fill="#e8202a" textLength="31">19</text>
<text x="973" y="163.4" textLength="16.5">4</text>
<text x="1082.3" y="165" textLength="33.2">99</text>
<text x="1150" y="163.4" fill="#e8202a" textLength="11">1</text>
<text x="1174.5" y="163.4" textLength="31.5">19</text>
</g>
<g stroke="#e8202a" stroke-width="1.6" stroke-dasharray="5 3.5" fill="none">
<path d="M939.5,182.8 Q942,196 953.7,197.1 L968,198.1 Q977,200 979.1,210 V279"/>
<path d="M1161.3,176.7 Q1161,194 1147,197.1 L990.3,197.1 Q981,199 979.1,210"/>
</g>
<polygon points="974,277.8 984.2,277.8 979.1,288" fill="#e8202a"/>

<!-- ================= PANEL F ================= -->
<text x="694" y="340" font-size="27" font-weight="bold">F</text>
<text x="810.4" y="337.8" font-size="30" font-style="italic" fill="#e8202a" textLength="358">Migration and Locomotion</text>
<rect x="815.3" y="355.7" width="350.8" height="352.8" fill="none" stroke="#111" stroke-width="2.2"/>
<g stroke="#111" stroke-width="2">
<line x1="806.5" y1="355.6" x2="815.3" y2="355.6"/><line x1="806.5" y1="425.5" x2="815.3" y2="425.5"/><line x1="806.5" y1="493.7" x2="815.3" y2="493.7"/><line x1="806.5" y1="561.6" x2="815.3" y2="561.6"/><line x1="806.5" y1="630.3" x2="815.3" y2="630.3"/><line x1="806.5" y1="707.5" x2="815.3" y2="707.5"/>
<line x1="815.3" y1="708.5" x2="815.3" y2="719"/><line x1="838.7" y1="708.5" x2="838.7" y2="715.5"/><line x1="862.1" y1="708.5" x2="862.1" y2="715.5"/><line x1="885.5" y1="708.5" x2="885.5" y2="715.5"/><line x1="908.9" y1="708.5" x2="908.9" y2="715.5"/><line x1="932.3" y1="708.5" x2="932.3" y2="719"/><line x1="955.6" y1="708.5" x2="955.6" y2="715.5"/><line x1="979" y1="708.5" x2="979" y2="715.5"/><line x1="1002.4" y1="708.5" x2="1002.4" y2="715.5"/><line x1="1025.8" y1="708.5" x2="1025.8" y2="715.5"/><line x1="1049.2" y1="708.5" x2="1049.2" y2="719"/><line x1="1072.6" y1="708.5" x2="1072.6" y2="715.5"/><line x1="1096" y1="708.5" x2="1096" y2="715.5"/><line x1="1119.4" y1="708.5" x2="1119.4" y2="715.5"/><line x1="1142.8" y1="708.5" x2="1142.8" y2="715.5"/><line x1="1166.1" y1="708.5" x2="1166.1" y2="719"/>
</g>
<g font-size="28" text-anchor="end" fill="#111">
<text x="805" y="365.6">5</text><text x="805" y="435.5">4</text><text x="805" y="503.7">3</text><text x="805" y="571.6">2</text><text x="805" y="640.3">1</text><text x="805" y="717.5">0</text>
</g>
<g font-size="28" text-anchor="middle" fill="#111">
<text x="821" y="744">0</text><text x="933" y="744">5</text><text x="1048" y="744">10</text><text x="1165" y="744">15</text>
</g>
<text x="830" y="777.5" font-size="28" fill="#111" textLength="296">-log<tspan font-size="18" dy="5">10</tspan><tspan dy="-5">(</tspan><tspan font-style="italic">in vitro</tspan> p-value)</text>
<text transform="translate(755,522) rotate(-90)" font-size="28" text-anchor="middle" fill="#111" textLength="312">-log<tspan font-size="18" dy="5">10</tspan><tspan dy="-5">(</tspan><tspan font-style="italic">in vivo</tspan> p-value)</text>
<g stroke="#111" stroke-width="1.3" stroke-dasharray="5 4" fill="none">
<line x1="897.7" y1="537.3" x2="836.9" y2="437.4" marker-end="url(#ah)"/>
<line x1="922.7" y1="547.9" x2="879.8" y2="458.5" marker-end="url(#ah)"/>
<line x1="910.2" y1="583.7" x2="986.3" y2="675.2" marker-end="url(#ah)"/>
<line x1="850.2" y1="630.1" x2="843.8" y2="669.5" marker-end="url(#ah)"/>
</g>
<g fill="#1a1a1a">
<circle cx="843.2" cy="604.8" r="7.5"/><circle cx="864.5" cy="545.1" r="7.5"/><circle cx="877.5" cy="596.4" r="7.5"/><circle cx="892.2" cy="604.2" r="7.5"/><circle cx="900" cy="599.7" r="7.5"/><circle cx="944.2" cy="525.4" r="7.5"/><circle cx="955.9" cy="525.4" r="7.5"/><circle cx="987.7" cy="566.8" r="7.5"/><circle cx="1035.3" cy="547.7" r="7.5"/><circle cx="1054.1" cy="570.5" r="7.5"/><circle cx="1048.5" cy="591.3" r="7.5"/><circle cx="1070.7" cy="608.5" r="7.5"/><circle cx="1104.7" cy="613.8" r="7.5"/>
</g>
<g fill="#ec1c24">
<circle cx="850.7" cy="613.2" r="7.5"/><circle cx="893.6" cy="573.3" r="7.5"/><circle cx="904.7" cy="545.1" r="7.5"/><circle cx="928.2" cy="562" r="7.5"/><circle cx="998.7" cy="550.8" r="7.5"/>
</g>
<g font-size="19" font-style="italic" fill="#e8202a">
<text x="829.1" y="430.3" textLength="118.4">GO:0035295</text>
<text x="871.5" y="454.3" textLength="118">GO:0051270</text>
<text x="1004.8" y="533" textLength="117.6">GO:0032879</text>
<text x="830.5" y="696.3" textLength="117.6">GO:0040012</text>
<text x="975.2" y="696.3" textLength="117.6">GO:0035239</text>
</g>

<!-- ================= PANEL G ================= -->
<text transform="translate(717,853) rotate(-90)" font-size="27" font-weight="bold">G</text>
<rect x="772.9" y="837" width="424" height="300.8" fill="none" stroke="#222" stroke-width="2.2"/>
<g font-size="27" text-anchor="end" fill="#222">
<text x="769" y="865.2">1.0</text><text x="769" y="919.2">0.8</text><text x="769" y="973.1">0.6</text><text x="769" y="1027.1">0.4</text><text x="769" y="1081">0.2</text><text x="769" y="1135">0.0</text>
</g>
<g font-size="27" text-anchor="middle" fill="#222">
<text x="791" y="1163.4">0</text><text x="866.6" y="1163.4">1000</text><text x="944" y="1163.4">2000</text><text x="1022.7" y="1163.4">3000</text><text x="1100.8" y="1163.4">4000</text><text x="1178.9" y="1163.4">5000</text>
</g>
<text transform="translate(718,975) rotate(-90)" font-size="30" text-anchor="middle" fill="#111" textLength="239">Survival Fraction</text>
<path d="M795.5,855.7 H823.2 V858.2 H838.8 V865.5 H854.4 V871.4 H868.3 V876.9 H882.2 V883.8 H919.7 V891.6 H943.3 V902 H1176.5" fill="none" stroke="#6cc3a0" stroke-width="2.2"/>
<path d="M795.5,855.7 H805.9 V860.6 H812.8 V865.5 H819.7 V869.5 H826.7 V874.4 H854.4 V881.3 H871.8 V886.2 H874.6 V898.5 H896.1 V904.9 H901.3 V909.9 H905.8 V914.8 H912.7 V919.7 H916.9 V925.6 H920.4 V930.5 H922.8 V936.9 H925.6 V941.9 H1035.6 V968 H1125.8" fill="none" stroke="#c4acd9" stroke-width="2.2"/>
<g font-size="23" font-weight="bold" font-style="italic" text-anchor="end" fill="#111">
<text x="1187.6" y="863" textLength="214.6">Progression Free</text>
<text x="1187.6" y="894" textLength="92.6">Interval</text>
</g>
<text x="795.5" y="1092" font-size="31" fill="#6cc3a0" textLength="90">Strong</text>
<text x="795.5" y="1125" font-size="31" fill="#c4acd9" textLength="78">Weak</text>
<text x="1187.6" y="1124" font-size="19" font-style="italic" text-anchor="end" fill="#222">p&lt;0.05</text>
<rect x="771.9" y="1183.1" width="423.6" height="301.4" fill="none" stroke="#222" stroke-width="2.2"/>
<g font-size="27" text-anchor="end" fill="#222">
<text x="767.5" y="1210.9">1.0</text><text x="767.5" y="1264.9">0.8</text><text x="767.5" y="1318.8">0.6</text><text x="767.5" y="1372.8">0.4</text><text x="767.5" y="1426.7">0.2</text><text x="767.5" y="1480.7">0.0</text>
</g>
<g font-size="27" text-anchor="middle" fill="#222">
<text x="789.2" y="1511.5">0</text><text x="878" y="1511.5">2000</text><text x="966.2" y="1511.5">4000</text><text x="1054" y="1511.5">6000</text><text x="1142.5" y="1511.5">8000</text>
</g>
<text x="905.8" y="1547.5" font-size="30" fill="#222" textLength="150">Time (Days)</text>
<text transform="translate(717,1326) rotate(-90)" font-size="30" text-anchor="middle" fill="#111" textLength="232">Survival Fraction</text>
<path d="M795.5,1200.4 H811.1 V1204.3 H853.7 V1212.7 H866.6 V1222.5 H881.5 V1233.8 H901.3 V1248.6 H903 V1265.9 H922.1 V1284.1 H959.2 V1340.7 H1010.6" fill="none" stroke="#6cc3a0" stroke-width="2.2"/>
<path d="M795.5,1200.4 H811.1 V1204.3 H823.2 V1210.2 H826.7 V1217.6 H832.9 V1225 H836.4 V1232.4 H839.9 V1239.8 H841.6 V1249.6 H866.6 V1257 H871.8 V1266.9 H875.3 V1282.6 H893.3 V1296.4 H905.8 V1312.6 H914.1 V1333.3 H918.6 V1356.5 H947.4 V1393.9 H1176.5" fill="none" stroke="#c4acd9" stroke-width="2.2"/>
<text x="1189.3" y="1211.7" font-size="23" font-weight="bold" font-style="italic" text-anchor="end" fill="#111" textLength="196.8">Overall Survival</text>
<text x="794.8" y="1436.7" font-size="31" fill="#6cc3a0" textLength="90">Strong</text>
<text x="794.8" y="1470.2" font-size="31" fill="#c4acd9" textLength="78">Weak</text>
<text x="1186.2" y="1471" font-size="19" font-style="italic" text-anchor="end" fill="#222">p&lt;0.05</text>
</svg>
</body></html>
